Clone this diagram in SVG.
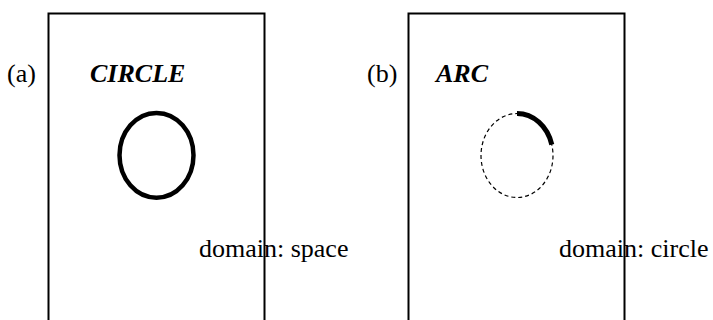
<svg xmlns="http://www.w3.org/2000/svg" width="713" height="320" viewBox="0 0 713 320">
<style>
.frame{fill:none;stroke:#000;stroke-width:2}
.lbl{font-family:"Liberation Serif","Times New Roman",serif;font-size:26px;fill:#000}
.title{font-family:"Liberation Serif","Times New Roman",serif;font-size:26px;font-weight:bold;font-style:italic;fill:#000}
</style>
<rect width="713" height="320" fill="#fff"/>
<g id="panel-a">
<rect class="frame" x="48.5" y="13.5" width="216" height="320"/>
<text class="lbl" x="7" y="82">(a)</text>
<text class="title" x="90" y="82">CIRCLE</text>
<ellipse cx="156.5" cy="155.3" rx="37" ry="42.4" fill="none" stroke="#000" stroke-width="4.5"/>
<text class="lbl" x="199" y="257">domain: space</text>
</g>
<g id="panel-b">
<rect class="frame" x="408.5" y="13.5" width="216" height="320"/>
<text class="lbl" x="367" y="82">(b)</text>
<text class="title" x="436" y="82">ARC</text>
<ellipse cx="517" cy="155.5" rx="36" ry="42" fill="none" stroke="#000" stroke-width="1.2" stroke-dasharray="4,3"/>
<path d="M517,113.5 A36,42 0 0,1 551.8,144.6" fill="none" stroke="#000" stroke-width="5"/>
<text class="lbl" x="559" y="257">domain: circle</text>
</g>
<g id="connectors"></g>
</svg>
